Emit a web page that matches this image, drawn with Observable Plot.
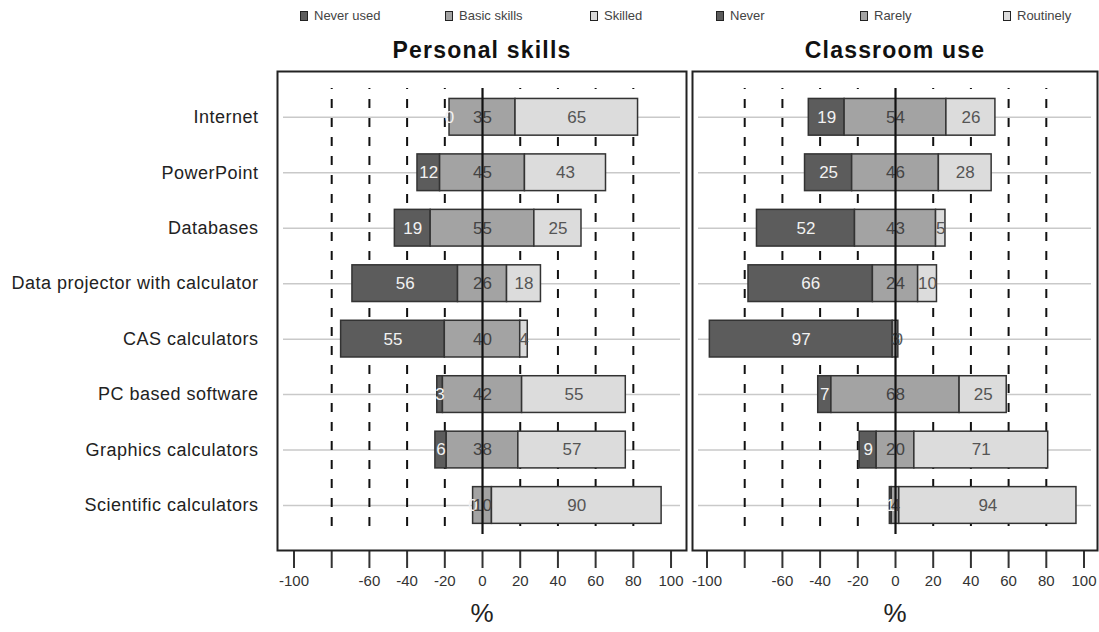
<!DOCTYPE html>
<html>
<head>
<meta charset="utf-8">
<script src="https://cdn.jsdelivr.net/npm/d3@7"></script>
<script src="https://cdn.jsdelivr.net/npm/@observablehq/plot@0.6"></script>
<style>
  html, body { margin: 0; padding: 0; background: #fff; }
  #wrap { position: relative; width: 1099px; height: 632px; overflow: hidden; font-family: "Liberation Sans", Arial, sans-serif; }
  .panel { position: absolute; top: 0; }
  .title { position: absolute; top: 37px; font-weight: bold; font-size: 23px; letter-spacing: 1.2px; color: #111; transform: translateX(-50%); white-space: nowrap; }
  .pct { position: absolute; top: 598px; font-size: 26px; color: #222; transform: translateX(-50%); }
  .leg { position: absolute; top: 8px; font-size: 13px; color: #444; white-space: nowrap; display: flex; align-items: center; }
  .leg i { display: inline-block; width: 6px; height: 8px; border: 1.5px solid #222; margin-right: 6px; }
  svg g[aria-label^="x-axis"] text { font-size: 15px; fill: #333; }
  svg g[aria-label^="x-axis"] path, svg g[aria-label^="x-axis"] line { stroke: #333; stroke-width: 2px; }
  svg g[aria-label^="y-axis"] text { font-size: 18px; fill: #222; letter-spacing: 0.5px; }
</style>
</head>
<body>
<div id="wrap"></div>
<script>
// ---- data ----
const categories = ["Internet", "PowerPoint", "Databases", "Data projector with calculator",
  "CAS calculators", "PC based software", "Graphics calculators", "Scientific calculators"];
const skillLevels = ["Never used", "Basic skills", "Skilled"];
const useLevels = ["Never", "Rarely", "Routinely"];
const skillNever   = [0, 12, 19, 56, 55, 3, 6, 0];
const skillBasic   = [35, 45, 55, 26, 40, 42, 38, 10];
const skillSkilled = [65, 43, 25, 18, 4, 55, 57, 90];
const useNever     = [19, 25, 52, 66, 97, 7, 9, 1];
const useRarely    = [54, 46, 43, 24, 3, 68, 20, 4];
const useRoutinely = [26, 28, 5, 10, 0, 25, 71, 94];
const xTicks = [-100, -80, -60, -40, -20, 0, 20, 40, 60, 80, 100];
const dashTicks = [-80, -60, -40, -20, 20, 40, 60, 80];
const titles = ["Personal skills", "Classroom use"];

const fills = ["#5c5c5c", "#a3a3a3", "#dcdcdc"];
const textFills = ["#f2f2f2", "#444", "#555"];

function buildRows(a, b, c) {
  const rows = [];
  categories.forEach((cat, i) => {
    const start = -(a[i] + b[i] / 2);
    const vals = [a[i], b[i], c[i]];
    let x = start;
    vals.forEach((v, k) => {
      rows.push({i, cat, k, v, x1: x, x2: x + v, fill: fills[k], tf: textFills[k]});
      x += v;
    });
  });
  return rows;
}

const wrap = document.getElementById("wrap");
const idx = d3.range(categories.length);

const panels = [
  {left: 0, width: 688, ml: 277, mr: 2, domain: [-108.75, 108.2], rows: buildRows(skillNever, skillBasic, skillSkilled), showY: true, center: 482, legend: skillLevels, legX: [300, 445, 590]},
  {left: 688, width: 411, ml: 4, mr: 2, domain: [-107.7, 107.16], rows: buildRows(useNever, useRarely, useRoutinely), showY: false, center: 895, legend: useLevels, legX: [716, 860, 1003]}
];

panels.forEach((p, pi) => {
  const chart = Plot.plot({
    width: p.width,
    height: 632,
    marginLeft: p.ml,
    marginRight: p.mr,
    marginTop: 71,
    marginBottom: 82,
    style: {fontFamily: "Liberation Sans, Arial, sans-serif", fontSize: "15px", background: "transparent", overflow: "visible", color: "#333"},
    x: {domain: p.domain, ticks: xTicks, tickFormat: d => d === -80 ? "" : String(d), tickSize: 18, tickPadding: 7, label: null},
    y: p.showY
      ? {type: "linear", domain: [0, 7], range: [116.8, 505], ticks: idx, tickFormat: i => categories[i], tickSize: 0, tickPadding: 19, label: null}
      : {type: "linear", domain: [0, 7], range: [116.8, 505], axis: null},
    marks: [
      Plot.ruleY(idx, {y: d => d, stroke: "#c9c9c9", strokeWidth: 1.5, insetLeft: 6, insetRight: 6}),
      Plot.ruleX(dashTicks, {x: d => d, stroke: "#111", strokeWidth: 2, strokeDasharray: "9,10", strokeDashoffset: 8, insetTop: 17, insetBottom: 16}),
      Plot.rect(p.rows, {x1: "x1", x2: "x2", y1: d => d.i - 0.331, y2: d => d.i + 0.331, fill: "fill", stroke: "#333", strokeWidth: 1.5}),
      Plot.text(p.rows, {x: d => (d.x1 + d.x2) / 2, y: "i", text: d => String(d.v), fill: "tf", fontSize: 17}),
      Plot.ruleX([0], {x: d => d, stroke: "#111", strokeWidth: 2.2, insetTop: 17, insetBottom: 16}),
      Plot.frame({stroke: "#222", strokeWidth: 2})
    ]
  });
  const holder = document.createElement("div");
  holder.className = "panel";
  holder.style.left = p.left + "px";
  holder.appendChild(chart);
  wrap.appendChild(holder);

  const t = document.createElement("div");
  t.className = "title";
  t.style.left = p.center + "px";
  t.textContent = titles[pi];
  wrap.appendChild(t);

  const pc = document.createElement("div");
  pc.className = "pct";
  pc.style.left = p.center + "px";
  pc.textContent = "%";
  wrap.appendChild(pc);

  p.legend.forEach((name, k) => {
    const l = document.createElement("div");
    l.className = "leg";
    l.style.left = p.legX[k] + "px";
    const sw = document.createElement("i");
    sw.style.background = fills[k];
    l.appendChild(sw);
    l.appendChild(document.createTextNode(name));
    wrap.appendChild(l);
  });
});
</script>
</body>
</html>
